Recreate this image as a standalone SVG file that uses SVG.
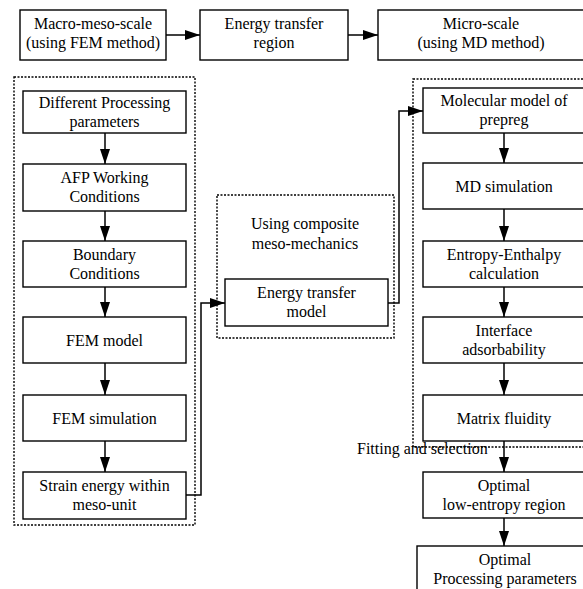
<svg xmlns="http://www.w3.org/2000/svg" width="583" height="589" viewBox="0 0 583 589">
<style>
.box{fill:#fff;stroke:#000;stroke-width:1.4}
.dot{fill:none;stroke:#000;stroke-width:1.4;stroke-dasharray:2 1.5}
.ln{fill:none;stroke:#000;stroke-width:1.5}
.t{font-family:'Liberation Serif','Times New Roman',serif;font-size:16px;fill:#000;text-anchor:middle}
.tl{font-family:'Liberation Serif','Times New Roman',serif;font-size:16px;fill:#000;text-anchor:start}
</style>
<defs>
<marker id="ah" markerUnits="userSpaceOnUse" markerWidth="15" markerHeight="10" refX="15" refY="5" orient="auto">
<path d="M0,0 L15,5 L0,10 z" fill="#000"/>
</marker>
</defs>
<rect width="583" height="589" fill="#fff"/>
<g id="containers">
<rect class="dot" x="14" y="77" width="181" height="448"/>
<rect class="dot" x="217" y="195" width="177" height="143"/>
<rect class="dot" x="413" y="79" width="180" height="368"/>
</g>
<g id="connectors">
<path class="ln" d="M166,35 H200" marker-end="url(#ah)"/>
<path class="ln" d="M348,35 H378" marker-end="url(#ah)"/>
<path class="ln" d="M105,133 V164" marker-end="url(#ah)"/>
<path class="ln" d="M105,211 V241" marker-end="url(#ah)"/>
<path class="ln" d="M105,287 V317" marker-end="url(#ah)"/>
<path class="ln" d="M105,363 V395" marker-end="url(#ah)"/>
<path class="ln" d="M105,441 V472" marker-end="url(#ah)"/>
<path class="ln" d="M186,495 H201 V303 H225" marker-end="url(#ah)"/>
<path class="ln" d="M388,303 H399 V111 H423" marker-end="url(#ah)"/>
<path class="ln" d="M504,133 V163" marker-end="url(#ah)"/>
<path class="ln" d="M504,209 V241" marker-end="url(#ah)"/>
<path class="ln" d="M504,287 V317" marker-end="url(#ah)"/>
<path class="ln" d="M504,363 V395" marker-end="url(#ah)"/>
<path class="ln" d="M504,441 V472" marker-end="url(#ah)"/>
<path class="ln" d="M504,518 V546" marker-end="url(#ah)"/>
</g>
<g id="n-macro"><rect class="box" x="20" y="10" width="146" height="50"/><text class="t" x="93" y="29">Macro-meso-scale</text><text class="t" x="93" y="48">(using FEM method)</text></g>
<g id="n-etr"><rect class="box" x="200" y="10" width="148" height="50"/><text class="t" x="274" y="29">Energy transfer</text><text class="t" x="274" y="48">region</text></g>
<g id="n-micro"><rect class="box" x="378" y="10" width="210" height="50"/><text class="t" x="481" y="29">Micro-scale</text><text class="t" x="481" y="48">(using MD method)</text></g>
<g id="n-dpp"><rect class="box" x="23" y="91" width="163" height="42"/><text class="t" x="104.5" y="108">Different Processing</text><text class="t" x="104.5" y="127">parameters</text></g>
<g id="n-afp"><rect class="box" x="23" y="164" width="163" height="47"/><text class="t" x="104.5" y="183">AFP Working</text><text class="t" x="104.5" y="202">Conditions</text></g>
<g id="n-bc"><rect class="box" x="23" y="241" width="163" height="46"/><text class="t" x="104.5" y="260">Boundary</text><text class="t" x="104.5" y="279">Conditions</text></g>
<g id="n-fem"><rect class="box" x="23" y="317" width="163" height="46"/><text class="t" x="104.5" y="345.5">FEM model</text></g>
<g id="n-femsim"><rect class="box" x="23" y="395" width="163" height="46"/><text class="t" x="104.5" y="423.5">FEM simulation</text></g>
<g id="n-strain"><rect class="box" x="23" y="472" width="163" height="47"/><text class="t" x="104.5" y="491">Strain energy within</text><text class="t" x="104.5" y="510">meso-unit</text></g>
<g id="n-ucm"><text class="t" x="305" y="229">Using composite</text><text class="t" x="305" y="249">meso-mechanics</text></g>
<g id="n-etm"><rect class="box" x="225" y="279" width="163" height="47"/><text class="t" x="306.5" y="298">Energy transfer</text><text class="t" x="306.5" y="317">model</text></g>
<g id="n-mol"><rect class="box" x="423" y="88" width="162" height="45"/><text class="t" x="504" y="106">Molecular model of</text><text class="t" x="504" y="125">prepreg</text></g>
<g id="n-md"><rect class="box" x="423" y="163" width="162" height="46"/><text class="t" x="504" y="191.5">MD simulation</text></g>
<g id="n-ent"><rect class="box" x="423" y="241" width="162" height="46"/><text class="t" x="504" y="260">Entropy-Enthalpy</text><text class="t" x="504" y="279">calculation</text></g>
<g id="n-int"><rect class="box" x="423" y="317" width="162" height="46"/><text class="t" x="504" y="336">Interface</text><text class="t" x="504" y="355">adsorbability</text></g>
<g id="n-mf"><rect class="box" x="423" y="395" width="162" height="46"/><text class="t" x="504" y="423.5">Matrix fluidity</text></g>
<g id="n-fit"><text class="tl" x="357" y="454">Fitting and selection</text></g>
<g id="n-ole"><rect class="box" x="423" y="472" width="162" height="46"/><text class="t" x="504" y="491">Optimal</text><text class="t" x="504" y="510">low-entropy region</text></g>
<g id="n-opp"><rect class="box" x="417" y="546" width="176" height="50"/><text class="t" x="505" y="565">Optimal</text><text class="t" x="505" y="584">Processing parameters</text></g>
</svg>
